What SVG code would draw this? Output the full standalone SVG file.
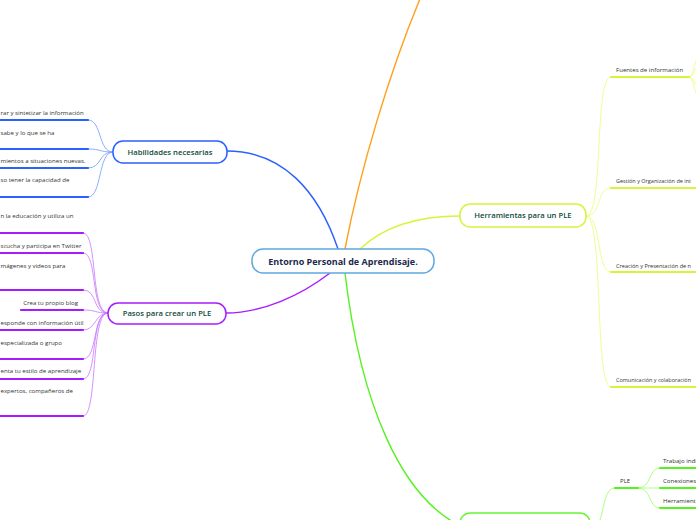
<svg xmlns="http://www.w3.org/2000/svg" width="696" height="520" viewBox="0 0 696 520">
<style>
.bg{fill:#ffffff}
.node rect{fill:#ffffff;stroke-width:1.5}
.main{font-family:"Open Sans","Liberation Sans",sans-serif;font-weight:600;font-size:7.7px;fill:#0f4a3a}
.central{font-family:"Open Sans","Liberation Sans",sans-serif;font-weight:700;font-size:9px;fill:#1b2a4a}
.sub{font-family:"Open Sans","Liberation Sans",sans-serif;font-size:6.1px;fill:#333333}
.c{fill:none}
.thin{fill:none;stroke-width:0.8}
.ul{fill:none;stroke-width:2.2;stroke-linecap:round}
</style>
<rect class="bg" x="0" y="0" width="696" height="520"/>

<g id="connectors">
  <!-- main branches -->
  <path class="c" d="M345,249 C360,170 390,70 422,-6" stroke="#ff9f1c" stroke-width="1.4"/>
  <path class="c" d="M338,249 C318,190 282,151 227,151" stroke="#2a60ff" stroke-width="1.4"/>
  <path class="c" d="M330,273 C300,296 262,313 226,313" stroke="#a61cff" stroke-width="1.4"/>
  <path class="c" d="M360,249 C380,230 410,216 460,216" stroke="#d4f53a" stroke-width="1.4"/>
  <path class="c" d="M345,273 C360,400 400,500 465,528" stroke="#55f21f" stroke-width="1.4"/>

  <!-- Habilidades sub branches -->
  <g stroke="#6f9bff">
    <path class="thin" d="M113,152 C98,152 102,120 88,120"/>
    <path class="thin" d="M113,152 C98,152 102,149 88,149"/>
    <path class="thin" d="M113,152 C98,152 102,168 88,168"/>
    <path class="thin" d="M113,152 C98,152 102,197 88,197"/>
  </g>
  <g stroke="#2a60ff">
    <path class="ul" d="M-2,120 H88"/>
    <path class="ul" d="M-2,149 H88"/>
    <path class="ul" d="M-2,168 H88"/>
    <path class="ul" d="M-2,197 H88"/>
  </g>

  <!-- Pasos sub branches -->
  <g stroke="#c777ff">
    <path class="thin" d="M108,313 C90,313 98,233 83,233"/>
    <path class="thin" d="M108,313 C90,313 98,253 83,253"/>
    <path class="thin" d="M108,313 C92,313 98,290 83,290"/>
    <path class="thin" d="M108,313 C95,313 96,310 83,310"/>
    <path class="thin" d="M108,313 C95,313 96,330 83,330"/>
    <path class="thin" d="M108,313 C92,313 98,359 83,359"/>
    <path class="thin" d="M108,313 C90,313 98,379 83,379"/>
    <path class="thin" d="M108,313 C90,313 98,416 83,416"/>
  </g>
  <g stroke="#a61cff">
    <path class="ul" d="M-2,233 H83"/>
    <path class="ul" d="M-2,253 H83"/>
    <path class="ul" d="M-2,290 H83"/>
    <path class="ul" d="M21,310 H83"/>
    <path class="ul" d="M-2,330 H83"/>
    <path class="ul" d="M-2,359 H83"/>
    <path class="ul" d="M-2,379 H83"/>
    <path class="ul" d="M-2,416 H83"/>
  </g>

  <!-- Herramientas sub branches -->
  <g stroke="#e6ff7a">
    <path class="thin" d="M586,216 C604,216 594,77 611,77"/>
    <path class="thin" d="M586,216 C602,216 596,188 611,188"/>
    <path class="thin" d="M586,216 C602,216 596,272 611,272"/>
    <path class="thin" d="M586,216 C604,216 594,387 611,387"/>
    <path class="thin" d="M689,77 C694,77 694,58 700,56"/>
    <path class="thin" d="M689,77 C694,77 695,66 700,65"/>
    <path class="thin" d="M689,77 C694,77 695,86 700,88"/>
    <path class="thin" d="M689,77 C694,77 694,96 700,98"/>
  </g>
  <g stroke="#d4f53a">
    <path class="ul" d="M611,77 H689"/>
    <path class="ul" d="M611,188 H700"/>
    <path class="ul" d="M611,272 H700"/>
    <path class="ul" d="M611,387 H700"/>
  </g>

  <!-- bottom green sub branches -->
  <g stroke="#99ff66">
    <path class="thin" d="M590,530 C606,530 600,488 615,488"/>
    <path class="thin" d="M638,488 C652,488 648,468 660,468"/>
    <path class="thin" d="M638,488 C650,488 650,488 660,488"/>
    <path class="thin" d="M638,488 C652,488 648,508 660,508"/>
  </g>
  <g stroke="#55f21f">
    <path class="ul" d="M615,488 H638"/>
    <path class="ul" d="M660,468 H700"/>
    <path class="ul" d="M660,488 H700"/>
    <path class="ul" d="M660,508 H700"/>
  </g>
</g>

<g id="central" class="node">
  <rect x="252" y="249" width="182" height="24" rx="11" stroke="#5fa8e0"/>
  <text class="central" x="343" y="264.5" text-anchor="middle">Entorno Personal de Aprendisaje.</text>
</g>

<g id="habilidades" class="node">
  <rect x="113" y="141" width="114" height="22" rx="10" stroke="#2a60ff"/>
  <text class="main" x="170" y="154.5" text-anchor="middle">Habilidades necesarias</text>
</g>

<g id="pasos" class="node">
  <rect x="108" y="303" width="118" height="21" rx="10" stroke="#a61cff"/>
  <text class="main" x="167" y="316" text-anchor="middle">Pasos para crear un PLE</text>
</g>

<g id="herramientas" class="node">
  <rect x="460" y="204" width="126" height="23" rx="10" stroke="#d4f53a"/>
  <text class="main" x="523" y="218" text-anchor="middle">Herramientas para un PLE</text>
</g>

<g id="bottom-node" class="node">
  <rect x="460" y="513" width="130" height="30" rx="10" stroke="#66f533"/>
</g>

<g id="habilidades-items">
  <text class="sub" x="0.5" y="115">rar y sintetizar la información</text>
  <text class="sub" x="0.5" y="135">sabe y lo que se ha</text>
  <text class="sub" x="0.5" y="163">mientos a situaciones nuevas.</text>
  <text class="sub" x="0.5" y="182">so tener la capacidad de</text>
</g>

<g id="pasos-items">
  <text class="sub" x="0.5" y="218">n la educación y utiliza un</text>
  <text class="sub" x="0.5" y="248">scucha y participa en Twitter</text>
  <text class="sub" x="0.5" y="268">mágenes y videos para</text>
  <text class="sub" x="78" y="305" text-anchor="end">Crea tu propio blog</text>
  <text class="sub" x="0.5" y="325">esponde con información útil</text>
  <text class="sub" x="0.5" y="345">especializada o grupo</text>
  <text class="sub" x="0.5" y="373">enta tu estilo de aprendizaje</text>
  <text class="sub" x="0.5" y="393">expertos, compañeros de</text>
</g>

<g id="herramientas-items">
  <text class="sub" x="616" y="72">Fuentes de información</text>
  <text class="sub" x="616" y="183" textLength="75" lengthAdjust="spacingAndGlyphs">Gestión y Organización de int</text>
  <text class="sub" x="616" y="268" textLength="75" lengthAdjust="spacingAndGlyphs">Creación y Presentación de n</text>
  <text class="sub" x="616" y="382" textLength="75" lengthAdjust="spacingAndGlyphs">Comunicación y colaboración</text>
</g>

<g id="ple-items">
  <text class="sub" x="620" y="483">PLE</text>
  <text class="sub" x="663" y="463">Trabajo indi</text>
  <text class="sub" x="663" y="483">Conexiones</text>
  <text class="sub" x="663" y="503">Herramient</text>
</g>
</svg>
